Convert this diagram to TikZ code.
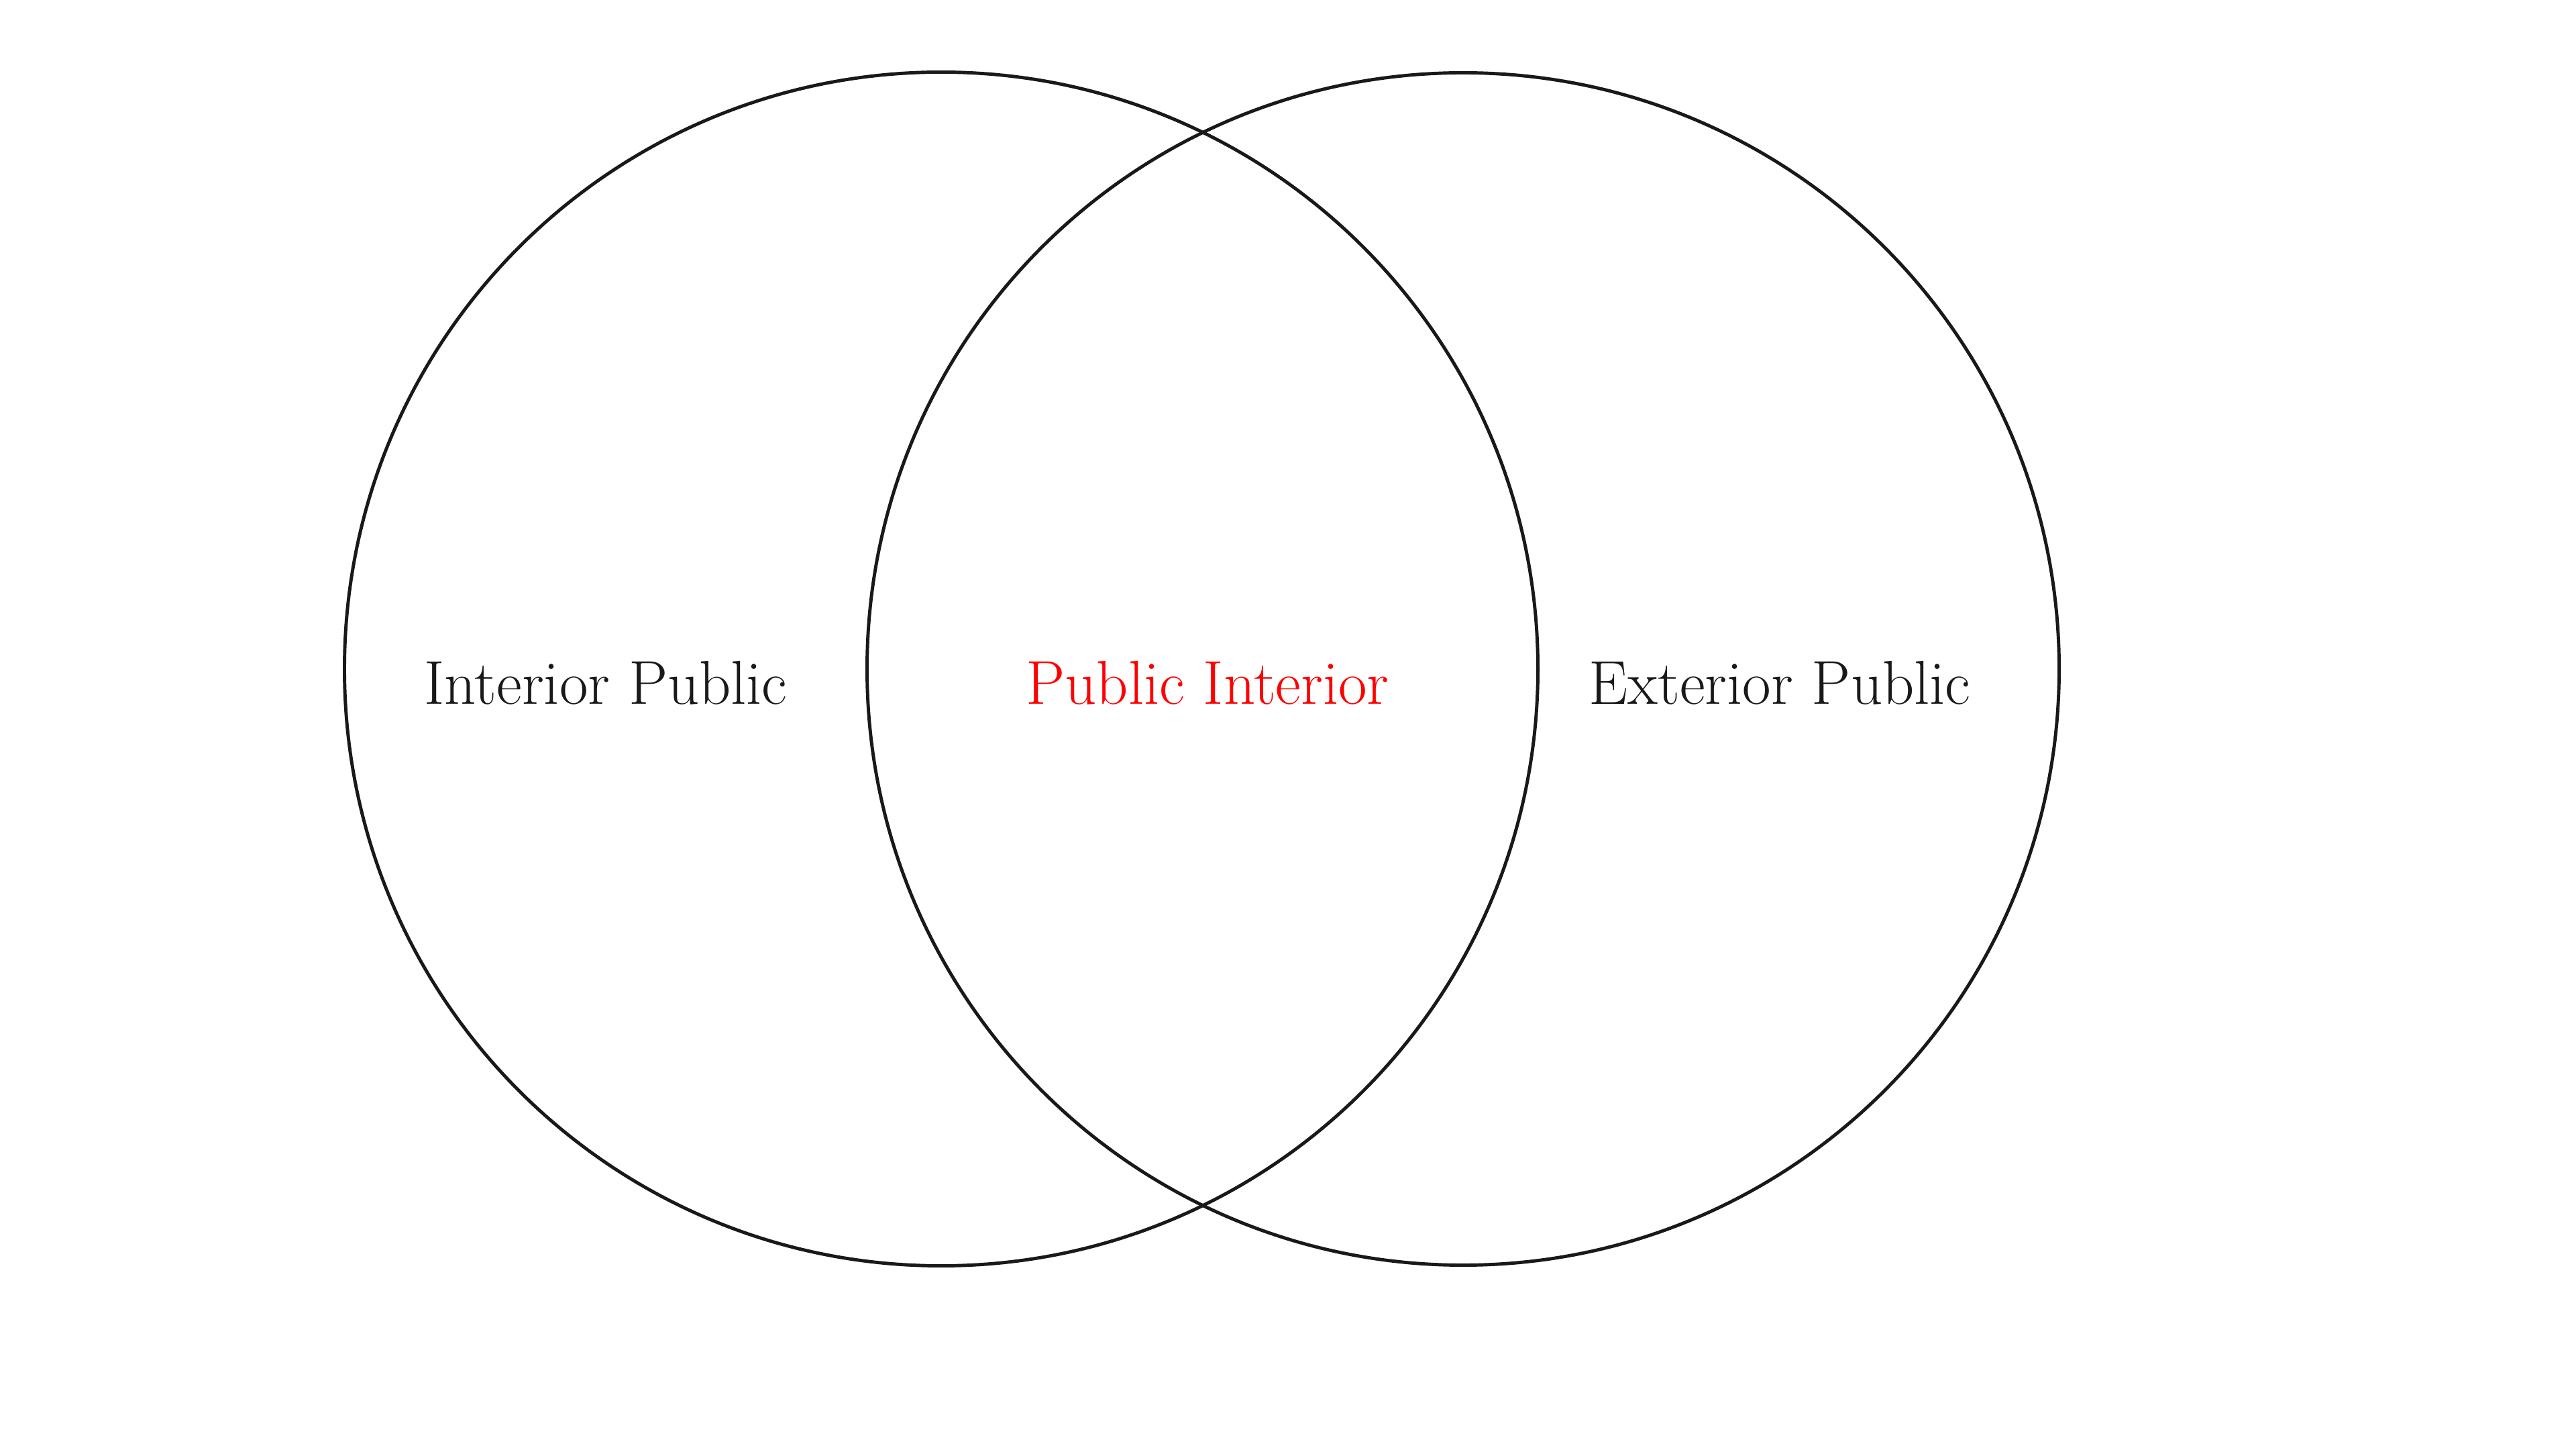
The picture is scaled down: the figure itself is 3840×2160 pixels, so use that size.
\documentclass[tikz,border=0pt]{standalone}
\usepackage{xcolor}
\begin{document}
\begin{tikzpicture}[x=0.01cm,y=0.01cm,
  ring/.style={draw=black!90, line width=1.4pt, circle, inner sep=0pt},
  lbl/.style={font=\fontsize{26.3}{31}\selectfont, text=black!90, inner sep=0pt},
  redlbl/.style={lbl, text=red}]
\useasboundingbox[fill=white] (0,0) rectangle (3840,2160);
\node[ring, minimum size=17.78cm] (L) at (1403,1163) {};
\node[ring, minimum size=17.76cm] (R) at (2181,1163) {};
\node[lbl] (ip) at (903,1142) {Interior Public};
\node[redlbl] (pi) at (1800,1142) {Public Interior};
\node[lbl] (ep) at (2653,1142) {Exterior Public};
\end{tikzpicture}
\end{document}
